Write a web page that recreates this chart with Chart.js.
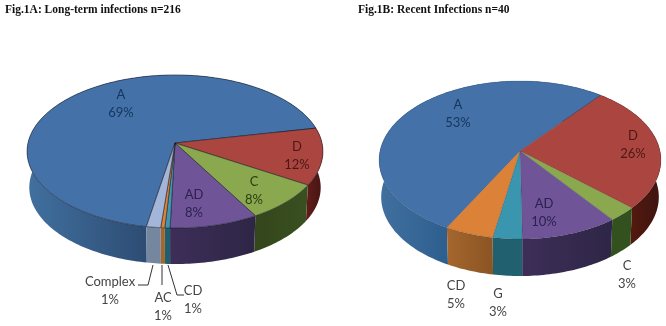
<!DOCTYPE html>
<html>
<head>
<meta charset="utf-8">
<script src="https://cdn.jsdelivr.net/npm/chart.js@4"></script>
<style>
  html, body { margin: 0; background: #fff; }
  #page { position: relative; width: 666px; height: 326px; overflow: hidden; }
  canvas { position: absolute; top: 0; filter: blur(0.45px); }
</style>
</head>
<body>
<div id="page">
  <canvas id="pie-a" width="335" height="326" style="left:0"></canvas>
  <canvas id="pie-b" width="331" height="326" style="left:335px"></canvas>
</div>
<script>
var categoriesA = ['A', 'D', 'C', 'AD', 'CD', 'AC', 'Complex'];
// slice sizes, the printed labels are rounded
var valuesA = [69, 12, 8, 8.7, 0.5, 0.4, 1.4];
var percentLabelsA = ['69%', '12%', '8%', '8%', '1%', '1%', '1%'];
var topColorsA = ['#4371a8', '#ab4540', '#8aa84d', '#6f5597', '#3f97b3', '#dc8138', '#a3b5d8'];
var sideColorsA = [['#41709f', '#2d4c73'], ['#5e1c1a', '#451412'], ['#33461c', '#3a5020'], ['#3d2e58', '#2e2646'], ['#1e5f70', '#1e5f70'], ['#a5662c', '#a5662c'], ['#75869f', '#75869f']];

var categoriesB = ['A', 'D', 'C', 'AD', 'G', 'CD'];
var valuesB = [53, 26, 3, 10, 3, 5];
var percentLabelsB = ['53%', '26%', '3%', '10%', '3%', '5%'];
var topColorsB = ['#4371a8', '#ab4540', '#8aa84d', '#6f5597', '#3a96ae', '#dc8138'];
var sideColorsB = [['#41709f', '#2d5f8e'], ['#52190f', '#3e1410'], ['#33501f', '#33501f'], ['#3d2e58', '#2e2646'], ['#20606f', '#20606f'], ['#a5662c', '#8a5524']];

// px spots for the value labels, in category order
var labelSpotsA = [[121, 104], [297, 155.5], [254, 191], [194, 204], [193, 300], [163, 307], [110, 291]];
var labelSpotsB = [[123, 113.5], [298, 145], [292, 275], [209, 213], [163, 303], [121, 295]];
var labelInkA = ['#17365d', '#4a1816', '#2c3d14', '#2c2150', '#444', '#444', '#444'];
var labelInkB = ['#17365d', '#4a1816', '#444', '#2c2150', '#444', '#444'];

// leader lines only exist on the left pie
var leadersA = [
  [[168, 265], [177, 295], [184, 295]],
  [[162, 265], [162, 285]],
  [[153, 265], [148, 285], [138, 285]]
];

var pie3d = {
  id: 'pie3d',
  beforeDatasetsDraw: function(chart, args, o) {
    var ctx = chart.ctx;
    var arcs = chart.getDatasetMeta(0).data;

    function rim(a, depth) {
      var x = Math.cos(a), y = Math.sin(a);
      var w = 1 - o.k * y;
      var shrink = depth ? 0.985 : 1;
      return [o.cx + x * o.r * shrink / w, o.cy + y * o.s / w + depth];
    }
    function trace(a0, a1, depth, first) {
      var steps = Math.max(2, Math.ceil(Math.abs(a1 - a0) / 0.02));
      for (var i = 0; i <= steps; i++) {
        var p = rim(a0 + (a1 - a0) * i / steps, depth);
        if (i == 0 && first) ctx.moveTo(p[0], p[1]);
        else ctx.lineTo(p[0], p[1]);
      }
    }

    ctx.save();
    // side wall first, the top face covers whatever faces backwards
    arcs.forEach(function(arc, i) {
      var a0 = arc.startAngle, a1 = arc.endAngle;
      var xs = [];
      for (var t = 0; t <= 40; t++) {
        var an = a0 + (a1 - a0) * t / 40;
        if (Math.sin(an) >= -0.05) xs.push(rim(an, 0)[0]);
      }
      if (!xs.length) return;
      var left = Math.min.apply(null, xs), right = Math.max.apply(null, xs);
      var g = ctx.createLinearGradient(left, 0, Math.max(right, left + 1), 0);
      g.addColorStop(0, o.sides[i][0]);
      g.addColorStop(1, o.sides[i][1]);
      ctx.beginPath();
      trace(a0, a1, 0, true);
      trace(a1, a0, o.depth, false);
      ctx.closePath();
      ctx.fillStyle = g;
      ctx.fill();
    });
    // top face
    arcs.forEach(function(arc, i) {
      ctx.beginPath();
      ctx.moveTo(o.cx, o.cy);
      trace(arc.startAngle, arc.endAngle, 0, false);
      ctx.closePath();
      ctx.fillStyle = arc.options.backgroundColor;
      ctx.fill();
      ctx.lineWidth = o.edge;
      ctx.strokeStyle = 'rgba(25,25,35,0.55)';
      ctx.stroke();
    });

    // leader lines
    ctx.strokeStyle = '#333';
    ctx.lineWidth = 1;
    (o.leaders || []).forEach(function(line) {
      ctx.beginPath();
      line.forEach(function(p, j) {
        if (j == 0) ctx.moveTo(p[0], p[1]);
        else ctx.lineTo(p[0], p[1]);
      });
      ctx.stroke();
    });

    // value labels, two lines each
    ctx.font = '13px Lato';
    ctx.textAlign = 'center';
    ctx.textBaseline = 'middle';
    chart.data.labels.forEach(function(name, i) {
      var spot = o.spots[i];
      ctx.fillStyle = o.ink[i];
      ctx.fillText(name, spot[0], spot[1] - 9);
      ctx.fillText(o.percents[i], spot[0], spot[1] + 9);
    });
    ctx.restore();
    return false;
  }
};

function createPie(id, title, titleLeft, labels, values, tops, rotation, opts) {
  return new Chart(document.getElementById(id), {
    type: 'pie',
    data: {
      labels: labels,
      datasets: [{ data: values, backgroundColor: tops, borderWidth: 0 }]
    },
    options: {
      responsive: false,
      animation: false,
      rotation: rotation,
      layout: { padding: { left: titleLeft } },
      plugins: {
        legend: { display: false },
        tooltip: { enabled: false },
        title: {
          display: true,
          text: title,
          align: 'start',
          color: '#111',
          font: { family: 'Liberation Serif', size: 11.5, weight: 'bold' },
          padding: { top: 3, bottom: 4 }
        },
        pie3d: opts
      }
    },
    plugins: [pie3d]
  });
}

createPie('pie-a', 'Fig.1A: Long-term infections n=216', 5, categoriesA, valuesA, topColorsA, 190, {
  cx: 175, cy: 143, r: 147, s: 75.6, k: 0.111, depth: 36, edge: 1,
  sides: sideColorsA, spots: labelSpotsA, percents: percentLabelsA, ink: labelInkA, leaders: leadersA
});
createPie('pie-b', 'Fig.1B: Recent Infections n=40', 23, categoriesB, valuesB, topColorsB, 208, {
  cx: 185, cy: 151, r: 140, s: 78, k: 0.114, depth: 37, edge: 0.3,
  sides: sideColorsB, spots: labelSpotsB, percents: percentLabelsB, ink: labelInkB
});
</script>
</body>
</html>
